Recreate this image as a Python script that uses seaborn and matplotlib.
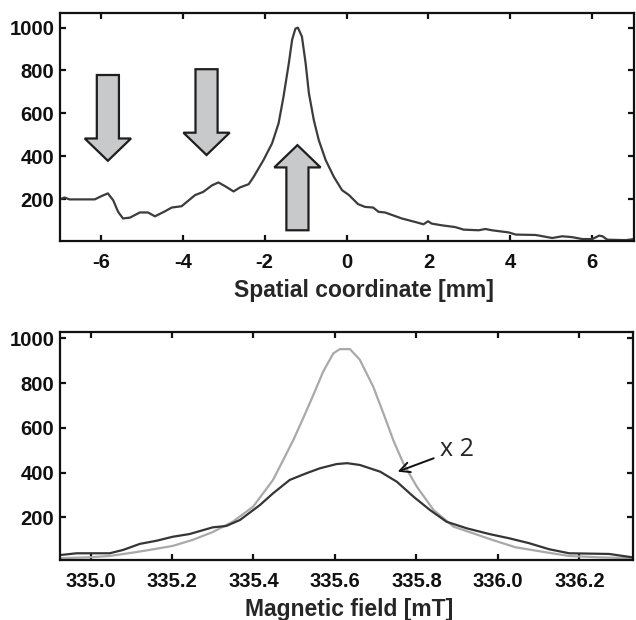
import numpy as np
import pandas as pd
import matplotlib
matplotlib.use("Agg")
import matplotlib.pyplot as plt
import seaborn as sns

# ---- data: spatial profile ----
x_spatial = [-7.05, -6.89, -6.77, -6.15, -5.99, -5.83, -5.70, -5.58, -5.46, -5.29,
             -5.05, -4.85, -4.68, -4.44, -4.27, -4.03, -3.70, -3.50, -3.29, -3.13,
             -2.97, -2.76, -2.60, -2.39, -2.27, -2.03, -1.82, -1.66, -1.54, -1.41,
             -1.33, -1.25, -1.19, -1.09, -1.00, -0.92, -0.80, -0.68, -0.51, -0.31,
             -0.11, 0.06, 0.28, 0.45, 0.65, 0.78, 0.94, 1.35, 1.67, 1.88, 1.99,
             2.08, 2.33, 2.65, 2.86, 3.23, 3.39, 3.55, 3.96, 4.13, 4.62,
             5.02, 5.27, 5.51, 5.76, 6.00, 6.17, 6.25, 6.37, 6.82, 7.02]
y_spatial = [195, 208, 199, 199, 214, 227, 195, 141, 110, 114,
             138, 138, 120, 143, 161, 167, 219, 234, 264, 278,
             261, 236, 255, 270, 304, 382, 460, 554, 678, 834,
             943, 995, 1000, 958, 834, 694, 569, 476, 382, 304,
             242, 219, 177, 164, 161, 141, 138, 110, 94, 83, 97,
             86, 78, 70, 58, 55, 61, 55, 45, 35, 33,
             19, 27, 23, 14, 14, 30, 27, 11, 9, 14]
spatial_ticks = [-6, -4, -2, 0, 2, 4, 6]
spatial_ticklabels = ["-6", "-4", "-2", "0", "2", "4", "6"]
intensity_ticks = [200, 400, 600, 800, 1000]

# block arrows: (x center, y start, y tip)
arrow_x = [-5.83, -3.42, -1.20]
arrow_y0 = [779, 806, 55]
arrow_y1 = [379, 406, 452]

# ---- data: EPR spectra ----
field_light = [334.925, 334.998, 335.047, 335.104, 335.145, 335.202, 335.251, 335.300,
               335.349, 335.399, 335.448, 335.473, 335.498, 335.522, 335.547, 335.571,
               335.596, 335.612, 335.637, 335.661, 335.694, 335.719, 335.743, 335.768,
               335.801, 335.842, 335.891, 335.940, 335.986, 336.043, 336.109, 336.174,
               336.248, 336.330]
spec_light = [17, 21, 27, 42, 54, 72, 99, 134,
              180, 247, 367, 456, 546, 643, 747, 851,
              933, 952, 952, 905, 784, 665, 546, 441,
              337, 233, 158, 128, 99, 66, 46, 27,
              21, 17]
field_dark = [334.925, 334.966, 335.047, 335.080, 335.121, 335.162, 335.202, 335.243,
              335.300, 335.333, 335.367, 335.416, 335.448, 335.489, 335.530, 335.563,
              335.604, 335.630, 335.661, 335.711, 335.752, 335.793, 335.833, 335.874,
              335.923, 335.979, 336.028, 336.077, 336.126, 336.175, 336.273, 336.330]
spec_dark = [31, 39, 39, 54, 81, 95, 113, 125,
             155, 161, 188, 255, 307, 367, 397, 419,
             438, 442, 434, 404, 359, 292, 233, 180,
             151, 125, 106, 84, 57, 39, 36, 21]
field_ticks = [335.0, 335.2, 335.4, 335.6, 335.8, 336.0, 336.2]
field_ticklabels = ["335.0", "335.2", "335.4", "335.6", "335.8", "336.0", "336.2"]

sns.set_style("ticks")
plt.rcParams['font.family'] = ['Liberation Sans', 'DejaVu Sans']
plt.rcParams['axes.unicode_minus'] = False

fig = plt.figure(figsize=(6.36, 6.2), dpi=100)
ax1 = fig.add_axes([0.0943, 0.6113, 0.9025, 0.3677])
ax2 = fig.add_axes([0.0943, 0.0968, 0.9005, 0.3682])

df1 = pd.DataFrame({"x": x_spatial, "y": y_spatial})
sns.lineplot(data=df1, x="x", y="y", ax=ax1, color="#3c3c3c", lw=1.6,
             estimator=None, sort=False, zorder=2)

for xc, y0, y1 in zip(arrow_x, arrow_y0, arrow_y1):
    ax1.arrow(xc, y0, 0, y1 - y0, width=0.54, head_width=1.13, head_length=104,
              length_includes_head=True, fc="#c8c9cb", ec="#1e1e1e", lw=1.6, zorder=3)

ax1.set_xlim(-7.0, 7.02)
ax1.set_ylim(5, 1068)
ax1.set_xticks(spatial_ticks)
ax1.set_xticklabels(spatial_ticklabels)
ax1.set_yticks(intensity_ticks)
ax1.set_xlabel("Spatial coordinate [mm]", fontsize=16.5, fontweight="bold", labelpad=3)
ax1.xaxis.set_label_coords(0.53, -0.165)
ax1.set_ylabel("")

dl = pd.DataFrame({"x": field_light, "y": spec_light})
dd = pd.DataFrame({"x": field_dark, "y": spec_dark})
sns.lineplot(data=dl, x="x", y="y", ax=ax2, color="#a9a9a9", lw=1.6,
             estimator=None, sort=False)
sns.lineplot(data=dd, x="x", y="y", ax=ax2, color="#353535", lw=1.6,
             estimator=None, sort=False)
ax2.set_xlim(334.925, 336.331)
ax2.set_ylim(9, 1030)
ax2.set_xticks(field_ticks)
ax2.set_xticklabels(field_ticklabels)
ax2.set_yticks(intensity_ticks)
ax2.set_xlabel("Magnetic field [mT]", fontsize=16.5, fontweight="bold", labelpad=3)
ax2.xaxis.set_label_coords(0.505, -0.165)
ax2.set_ylabel("")
ax2.annotate("x 2", xy=(335.754, 404), xytext=(335.857, 502),
             fontsize=18, family=["Open Sans", "DejaVu Sans"], va="center", ha="left",
             arrowprops=dict(arrowstyle="->", lw=1.4, color="#111111",
                             mutation_scale=18, shrinkA=2, shrinkB=0))

for ax in (ax1, ax2):
    for s in ax.spines.values():
        s.set_visible(True)
        s.set_linewidth(1.6)
        s.set_color("#111111")
    ax.tick_params(direction="in", top=True, right=True, length=4, width=1.6,
                   labelsize=14.6, pad=9, colors="#111111")
    for lab in ax.get_xticklabels() + ax.get_yticklabels():
        lab.set_fontweight("bold")
    ax.tick_params(axis="y", pad=4)

fig.savefig("out.png", dpi=100)
